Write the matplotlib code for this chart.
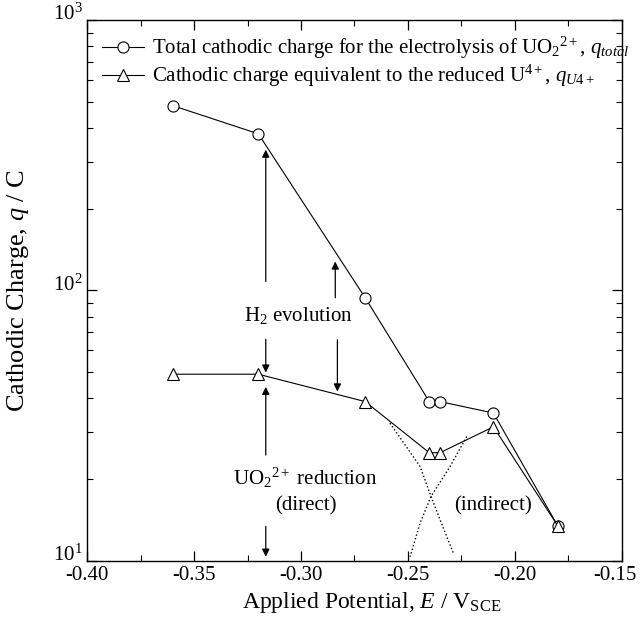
import numpy as np
import matplotlib
matplotlib.use('Agg')
import matplotlib.pyplot as plt
from matplotlib.ticker import MultipleLocator, LogLocator, NullFormatter

plt.rcParams['font.family'] = ['Liberation Serif', 'DejaVu Serif']
plt.rcParams['mathtext.fontset'] = 'custom'
plt.rcParams['mathtext.rm'] = 'Liberation Serif'
plt.rcParams['mathtext.it'] = 'Liberation Serif:italic'
plt.rcParams['axes.unicode_minus'] = False

# data
potential = [-0.36, -0.32, -0.27, -0.24, -0.235, -0.21, -0.18]
q_total = [483, 380, 94, 38.8, 38.8, 35.2, 13.5]
q_u4 = [49, 49, 38.8, 25.1, 25.1, 31.3, 13.5]

# dotted guide curves (direct / indirect)
direct_x = [-0.2584, -0.2443, -0.2392, -0.235, -0.2287]
direct_y = [32.3, 22.3, 17.3, 14.2, 10.65]
indirect_x = [-0.2225, -0.2303, -0.2392, -0.2443, -0.249]
indirect_y = [28.8, 22.3, 17.3, 13.8, 10.35]

fig = plt.figure(figsize=(6.4, 6.27), dpi=100)
ax = fig.add_axes([0.1364, 0.1057, 0.835, 0.862])

ax.plot(potential, q_total, '-', color='black', lw=0.8, marker='o', ms=8,
        mfc='white', mec='black', mew=0.8,
        label='Total cathodic charge for the electrolysis of UO$_2$$^{2+}$, $q_{total}$')
ax.plot(potential, q_u4, '-', color='black', lw=0.8, marker='^', ms=9,
        mfc='white', mec='black', mew=0.8,
        label='Cathodic charge equivalent to the reduced U$^{4+}$, $q_{U4+}$')

ax.plot(direct_x, direct_y, ':', color='black', lw=1.0)
ax.plot(indirect_x, indirect_y, ':', color='black', lw=1.0)

ap = dict(arrowstyle='-|>', color='black', lw=0.9, mutation_scale=11, shrinkA=0, shrinkB=0)
# H2 evolution arrows
ax.annotate('', xy=(-0.3165, 332), xytext=(-0.3165, 108), arrowprops=ap)
ax.annotate('', xy=(-0.3165, 49.7), xytext=(-0.3165, 66), arrowprops=ap)
ax.annotate('', xy=(-0.284, 128), xytext=(-0.284, 94), arrowprops=ap)
ax.annotate('', xy=(-0.283, 42.3), xytext=(-0.283, 65.7), arrowprops=ap)
# UO2 reduction arrows
ax.annotate('', xy=(-0.3165, 44), xytext=(-0.3165, 24.6), arrowprops=ap)
ax.annotate('', xy=(-0.3165, 10.35), xytext=(-0.3165, 13.4), arrowprops=ap)

ax.text(-0.3014, 81, 'H$_2$ evolution', fontsize=15, ha='center', va='center')
ax.text(-0.298, 20.2, 'UO$_2$$^{2+}$ reduction', fontsize=15, ha='center', va='center')
ax.text(-0.2977, 15.9, '(direct)', fontsize=15, ha='center', va='center')
ax.text(-0.2104, 15.9, '(indirect)', fontsize=15, ha='center', va='center')

ax.set_yscale('log')
ax.set_xlim(-0.40, -0.15)
ax.set_ylim(10, 1000)
ax.xaxis.set_major_locator(MultipleLocator(0.05))
ax.xaxis.set_minor_locator(MultipleLocator(0.025))
# the last label (-0.15) is drawn by hand a bit to the left so it fits
ax.xaxis.set_major_formatter(plt.FuncFormatter(
    lambda v, p: '' if v > -0.151 else '%.2f' % v))
ax.annotate('%.2f' % -0.15, xy=(-0.15, 0), xycoords=('data', 'axes fraction'),
            xytext=(-5, -3.5), textcoords='offset points',
            ha='center', va='top', fontsize=15, annotation_clip=False)
ax.yaxis.set_major_locator(LogLocator(base=10))
ax.yaxis.set_minor_locator(LogLocator(base=10, subs=np.arange(2, 10)))
ax.yaxis.set_minor_formatter(NullFormatter())
ax.tick_params(which='both', direction='in', top=True, right=True, labelsize=15)
ax.tick_params(which='major', length=7, width=0.9)
ax.tick_params(which='minor', length=4, width=0.8)
for s in ax.spines.values():
    s.set_linewidth(1.0)

ax.set_xlabel('Applied Potential, $E$ / V$_{\\rm SCE}$', fontsize=17)
ax.set_ylabel('Cathodic Charge, $q$ / C', fontsize=19)
ax.xaxis.set_label_coords(0.533, -0.055)
ax.yaxis.set_label_coords(-0.105, 0.5)

ax.legend(loc='upper left', bbox_to_anchor=(0.0, 1.0), frameon=False, fontsize=15,
          handlelength=2.0, handletextpad=0.4, borderaxespad=0.3, labelspacing=0.1)

fig.canvas.draw()
for lab in ax.get_yticklabels():
    lab.set_va('baseline')

fig.savefig('out.png', dpi=100)
